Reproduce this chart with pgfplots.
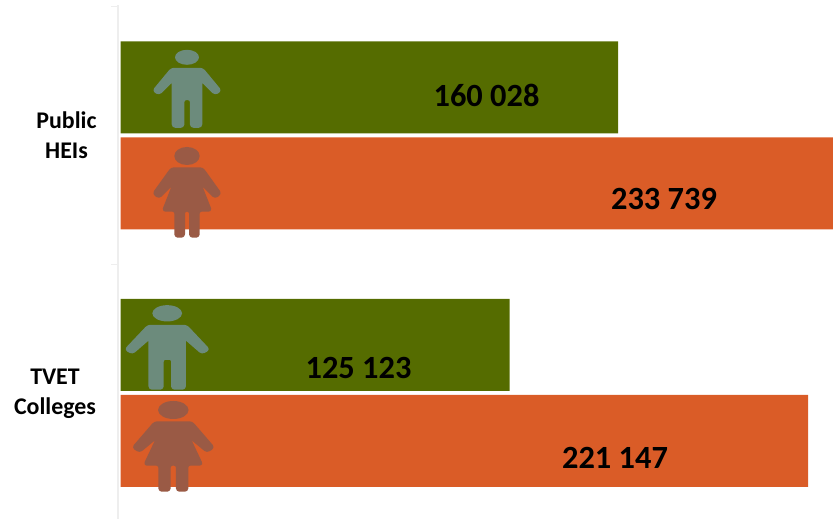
\documentclass[border=0pt]{standalone}
\usepackage{pgfplots}
\pgfplotsset{compat=1.18}
\usepackage{fontspec}
\setmainfont{Carlito}
\definecolor{mgreen}{HTML}{556C00}
\definecolor{forange}{HTML}{DA5C27}
\definecolor{mfig}{HTML}{6C8B7C}
\definecolor{ffig}{HTML}{9A5A45}
\definecolor{axgray}{HTML}{EEEEEE}
\newcommand{\man}[4]{\begin{scope}[shift={(#1,#2)},xscale=#3,yscale=#4]
\fill[mfig] (0,0) ellipse (12 and 7.5);
\filldraw[mfig,line width=2bp,line join=round,rounded corners=2.6bp] (-15.5,11.5) -- (15.5,11.5) -- (33.6,33.4) -- (28,36.8) -- (14.3,23.2) -- (14.3,69.5) -- (3.9,69.5) -- (3.9,41.9) -- (-3.6,41.9) -- (-3.6,69.5) -- (-14.3,69.5) -- (-14.3,23.2) -- (-28,36.8) -- (-33.6,33.4) -- cycle;
\end{scope}}
\newcommand{\woman}[4]{\begin{scope}[shift={(#1,#2)},xscale=#3,yscale=#4]
\fill[ffig] (0,0) ellipse (12.7 and 9);
\filldraw[ffig,line width=2bp,line join=round,rounded corners=2.6bp] (-15.5,12.3) -- (15.5,12.3) -- (33.6,37.5) -- (28,41.7) -- (13,26.8) -- (24,54.7) -- (11.7,54.7) -- (11.7,80.7) -- (3,80.7) -- (3,54.7) -- (-3,54.7) -- (-3,80.7) -- (-11.7,80.7) -- (-11.7,54.7) -- (-24,54.7) -- (-13,26.8) -- (-28,41.7) -- (-33.6,37.5) -- cycle;
\end{scope}}
\begin{document}
\begin{tikzpicture}[x=1bp,y=1bp]
\path[use as bounding box] (0,0) rectangle (833,519);
\begin{axis}[
  at={(118bp,0bp)},anchor=south west,
  scale only axis,width=715bp,height=514bp,
  xmin=-804,xmax=229170,
  ymin=-0.489,ymax=1.5056,
  axis x line=none,
  axis y line*=left,
  axis line style={axgray,line width=2pt,-},
  y axis line style={axgray},
  ytick={0,1},
  yticklabels={},
  extra y ticks={0.5,1.5},
  extra y tick labels={},
  extra y tick style={major tick length=7bp,tick style={axgray,line width=1pt}},
  major tick length=0pt,
  xbar,
  bar width=92bp,
  clip=true,
]
\addplot[fill=mgreen,draw=none,bar shift=48bp] coordinates {(160028,1) (125123,0)};
\addplot[fill=forange,draw=none,bar shift=-48bp] coordinates {(233739,1) (221147,0)};
\end{axis}
\begin{scope}[shift={(0,519)},y=-1bp]
\man{187}{57.3}{1}{1}
\woman{187}{156}{1}{1}
\man{167.2}{313.3}{1.24}{1.085}
\woman{173.3}{410}{1.2}{1}
\node[font=\fontsize{32.5}{32.5}\selectfont\bfseries,text=black] at (486.5,95) {160 028};
\node[font=\fontsize{32.5}{32.5}\selectfont\bfseries,text=black] at (664,199) {233 739};
\node[font=\fontsize{32.5}{32.5}\selectfont\bfseries,text=black] at (358.5,368) {125 123};
\node[font=\fontsize{32.5}{32.5}\selectfont\bfseries,text=black] at (615,458) {221 147};
\node[font=\fontsize{24}{30}\selectfont\bfseries,align=center] at (66.5,135.5) {Public\\HEIs};
\node[font=\fontsize{24}{30}\selectfont\bfseries,align=center] at (55,394) {TVET\\Colleges};
\end{scope}
\end{tikzpicture}
\end{document}
